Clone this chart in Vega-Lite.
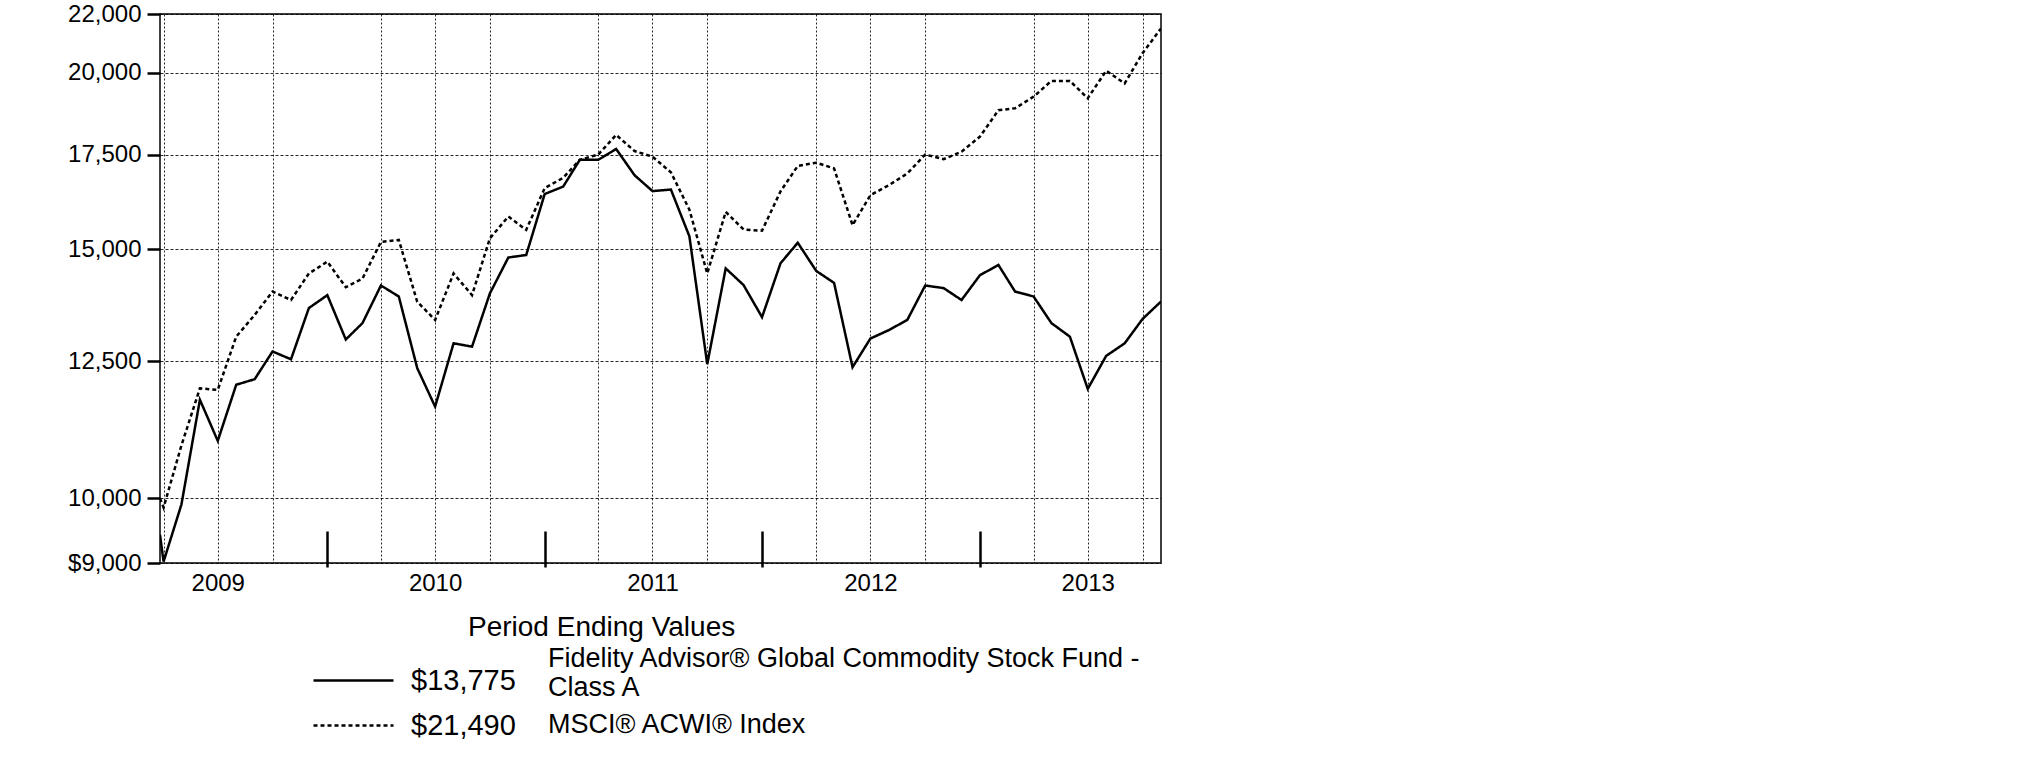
{
  "$schema": "https://vega.github.io/schema/vega-lite/v6.json",
  "width": 1001,
  "height": 549,
  "autosize": {"type": "none"},
  "padding": {"left": 160, "top": 14, "right": 864, "bottom": 210},
  "background": "white",
  "config": {
    "font": "Liberation Sans",
    "view": {"stroke": "black", "strokeWidth": 1.5},
    "axis": {"labelColor": "black", "tickColor": "black", "domainColor": "black"},
    "legend": {"labelColor": "black", "titleColor": "black", "padding": 0}
  },
  "datasets": {
    "ending": [
      {"series": "Fidelity Advisor® Global Commodity Stock Fund - Class A", "ending": "$13,775"},
      {"series": "MSCI® ACWI® Index", "ending": "$21,490"}
    ]
  },
  "data": {
    "values": [
      {"date": "2009-03-25", "fund": 9425, "index": 10000},
      {"date": "2009-03-31", "fund": 9020, "index": 9850},
      {"date": "2009-04-30", "fund": 9900, "index": 10900},
      {"date": "2009-05-31", "fund": 11740, "index": 11960},
      {"date": "2009-06-30", "fund": 10980, "index": 11930},
      {"date": "2009-07-31", "fund": 12030, "index": 13010},
      {"date": "2009-08-31", "fund": 12140, "index": 13480},
      {"date": "2009-09-30", "fund": 12700, "index": 14000},
      {"date": "2009-10-31", "fund": 12540, "index": 13810},
      {"date": "2009-11-30", "fund": 13630, "index": 14420},
      {"date": "2009-12-31", "fund": 13920, "index": 14700},
      {"date": "2010-01-31", "fund": 12950, "index": 14100},
      {"date": "2010-02-28", "fund": 13300, "index": 14300},
      {"date": "2010-03-31", "fund": 14140, "index": 15180},
      {"date": "2010-04-30", "fund": 13890, "index": 15230},
      {"date": "2010-05-31", "fund": 12360, "index": 13770},
      {"date": "2010-06-30", "fund": 11610, "index": 13370},
      {"date": "2010-07-31", "fund": 12870, "index": 14420},
      {"date": "2010-08-31", "fund": 12800, "index": 13920},
      {"date": "2010-09-30", "fund": 13960, "index": 15270},
      {"date": "2010-10-31", "fund": 14800, "index": 15820},
      {"date": "2010-11-30", "fund": 14860, "index": 15480},
      {"date": "2010-12-31", "fund": 16410, "index": 16570},
      {"date": "2011-01-31", "fund": 16610, "index": 16850},
      {"date": "2011-02-28", "fund": 17350, "index": 17350},
      {"date": "2011-03-31", "fund": 17350, "index": 17500},
      {"date": "2011-04-30", "fund": 17660, "index": 18070},
      {"date": "2011-05-31", "fund": 16920, "index": 17600},
      {"date": "2011-06-30", "fund": 16490, "index": 17440},
      {"date": "2011-07-31", "fund": 16530, "index": 17000},
      {"date": "2011-08-31", "fund": 15320, "index": 16000},
      {"date": "2011-09-30", "fund": 12440, "index": 14420},
      {"date": "2011-10-31", "fund": 14540, "index": 15940},
      {"date": "2011-11-30", "fund": 14150, "index": 15490},
      {"date": "2011-12-31", "fund": 13430, "index": 15460},
      {"date": "2012-01-31", "fund": 14660, "index": 16480},
      {"date": "2012-02-29", "fund": 15160, "index": 17180},
      {"date": "2012-03-31", "fund": 14480, "index": 17270},
      {"date": "2012-04-30", "fund": 14200, "index": 17110},
      {"date": "2012-05-31", "fund": 12380, "index": 15600},
      {"date": "2012-06-30", "fund": 12970, "index": 16380},
      {"date": "2012-07-31", "fund": 13150, "index": 16650},
      {"date": "2012-08-31", "fund": 13370, "index": 16970},
      {"date": "2012-09-30", "fund": 14140, "index": 17500},
      {"date": "2012-10-31", "fund": 14080, "index": 17370},
      {"date": "2012-11-30", "fund": 13810, "index": 17580},
      {"date": "2012-12-31", "fund": 14380, "index": 18020},
      {"date": "2013-01-31", "fund": 14620, "index": 18810},
      {"date": "2013-02-28", "fund": 14000, "index": 18870},
      {"date": "2013-03-31", "fund": 13890, "index": 19230},
      {"date": "2013-04-30", "fund": 13300, "index": 19730},
      {"date": "2013-05-31", "fund": 13010, "index": 19730},
      {"date": "2013-06-30", "fund": 11950, "index": 19180},
      {"date": "2013-07-31", "fund": 12610, "index": 20060},
      {"date": "2013-08-31", "fund": 12870, "index": 19650},
      {"date": "2013-09-30", "fund": 13390, "index": 20640},
      {"date": "2013-10-31", "fund": 13775, "index": 21490}
    ]
  },
  "transform": [
    {"fold": ["fund", "index"], "as": ["key", "value"]},
    {"lookup": "key", "from": {"data": {"values": [
      {"key": "fund", "series": "Fidelity Advisor® Global Commodity Stock Fund - Class A"},
      {"key": "index", "series": "MSCI® ACWI® Index"}
    ]}, "key": "key", "fields": ["series"]}},
    {"lookup": "series", "from": {"data": {"name": "ending"}, "key": "series", "fields": ["ending"]}}
  ],
  "resolve": {"axis": {"x": "independent"}},
  "layer": [
    {
      "mark": {"type": "line", "strokeWidth": 2.5, "clip": true},
      "encoding": {
        "x": {
          "field": "date", "type": "temporal",
          "scale": {"type": "utc", "domain": [{"year": 2009, "month": 3, "date": 25, "utc": true}, {"year": 2013, "month": 10, "date": 31, "utc": true}]},
          "axis": {
            "orient": "bottom", "title": null, "labels": false, "ticks": false, "domain": false,
            "grid": true, "gridColor": "black", "gridDash": [2, 2], "gridWidth": 1, "gridOpacity": 0.85,
            "values": [
              {"year": 2009, "month": 3, "date": 31, "utc": true},
              {"year": 2009, "month": 6, "date": 30, "utc": true},
              {"year": 2009, "month": 9, "date": 30, "utc": true},
              {"year": 2010, "month": 3, "date": 31, "utc": true},
              {"year": 2010, "month": 6, "date": 30, "utc": true},
              {"year": 2010, "month": 9, "date": 30, "utc": true},
              {"year": 2011, "month": 3, "date": 31, "utc": true},
              {"year": 2011, "month": 6, "date": 30, "utc": true},
              {"year": 2011, "month": 9, "date": 30, "utc": true},
              {"year": 2012, "month": 3, "date": 31, "utc": true},
              {"year": 2012, "month": 6, "date": 30, "utc": true},
              {"year": 2012, "month": 9, "date": 30, "utc": true},
              {"year": 2013, "month": 3, "date": 31, "utc": true},
              {"year": 2013, "month": 6, "date": 30, "utc": true},
              {"year": 2013, "month": 9, "date": 30, "utc": true}
            ]
          }
        },
        "y": {
          "field": "value", "type": "quantitative",
          "scale": {"type": "log", "domain": [9000, 22000], "nice": false, "zero": false},
          "axis": {
            "title": null, "values": [9000, 10000, 12500, 15000, 17500, 20000, 22000],
            "labelExpr": "datum.value == 9000 ? '$9,000' : format(datum.value, ',')",
            "labelFontSize": 24, "labelPadding": 6, "tickSize": 13, "tickWidth": 2.5,
            "domain": false, "grid": true, "gridColor": "black", "gridDash": [3, 2], "gridWidth": 1, "gridOpacity": 0.85
          }
        },
        "color": {
          "field": "series", "type": "nominal",
          "scale": {"domain": ["Fidelity Advisor® Global Commodity Stock Fund - Class A", "MSCI® ACWI® Index"], "range": ["black", "black"]},
          "legend": {
            "title": "Period Ending Values", "orient": "none", "legendX": 308, "legendY": 600,
            "titleFontSize": 28, "titleFontWeight": "normal", "titlePadding": 3, "titleLimit": 1000,
            "symbolOpacity": 0, "symbolSize": 4, "labelOffset": 53,
            "labelFontSize": 27, "rowPadding": 9, "labelLimit": 0,
            "labelExpr": "datum.label == 'Fidelity Advisor® Global Commodity Stock Fund - Class A' ? ['Fidelity Advisor® Global Commodity Stock Fund -', 'Class A'] : datum.label"
          }
        },
        "strokeDash": {
          "field": "ending", "type": "nominal",
          "scale": {"domain": ["$13,775", "$21,490"], "range": [[1, 0], [4, 3]]},
          "legend": {
            "title": null, "orient": "none", "legendX": 179, "legendY": 652,
            "symbolType": "M-8,0L8,0", "symbolSize": 100, "symbolStrokeWidth": 2.5, "symbolStrokeColor": "black",
            "labelFontSize": 29, "labelOffset": 43, "rowPadding": 15, "labelLimit": 0
          }
        }
      }
    },
    {
      "mark": {"type": "point", "opacity": 0},
      "encoding": {
        "x": {
          "field": "date", "type": "temporal",
          "axis": {
            "orient": "bottom", "title": null, "format": "%Y", "labelFontSize": 24, "labelPadding": 8,
            "ticks": false, "domain": false, "grid": false, "labelFlush": false, "labelOverlap": false,
            "values": [
              {"year": 2009, "month": 6, "date": 30, "utc": true},
              {"year": 2010, "month": 6, "date": 30, "utc": true},
              {"year": 2011, "month": 6, "date": 30, "utc": true},
              {"year": 2012, "month": 6, "date": 30, "utc": true},
              {"year": 2013, "month": 6, "date": 30, "utc": true}
            ]
          }
        },
        "y": {"field": "value", "type": "quantitative"}
      }
    },
    {
      "mark": {"type": "point", "opacity": 0},
      "encoding": {
        "x": {
          "field": "date", "type": "temporal",
          "axis": {
            "orient": "bottom", "title": null, "labels": false, "domain": false, "grid": false,
            "ticks": true, "tickSize": -36, "tickWidth": 2.5, "offset": 4,
            "values": [
              {"year": 2009, "month": 12, "date": 31, "utc": true},
              {"year": 2010, "month": 12, "date": 31, "utc": true},
              {"year": 2011, "month": 12, "date": 31, "utc": true},
              {"year": 2012, "month": 12, "date": 31, "utc": true}
            ]
          }
        },
        "y": {"field": "value", "type": "quantitative"}
      }
    }
  ]
}
